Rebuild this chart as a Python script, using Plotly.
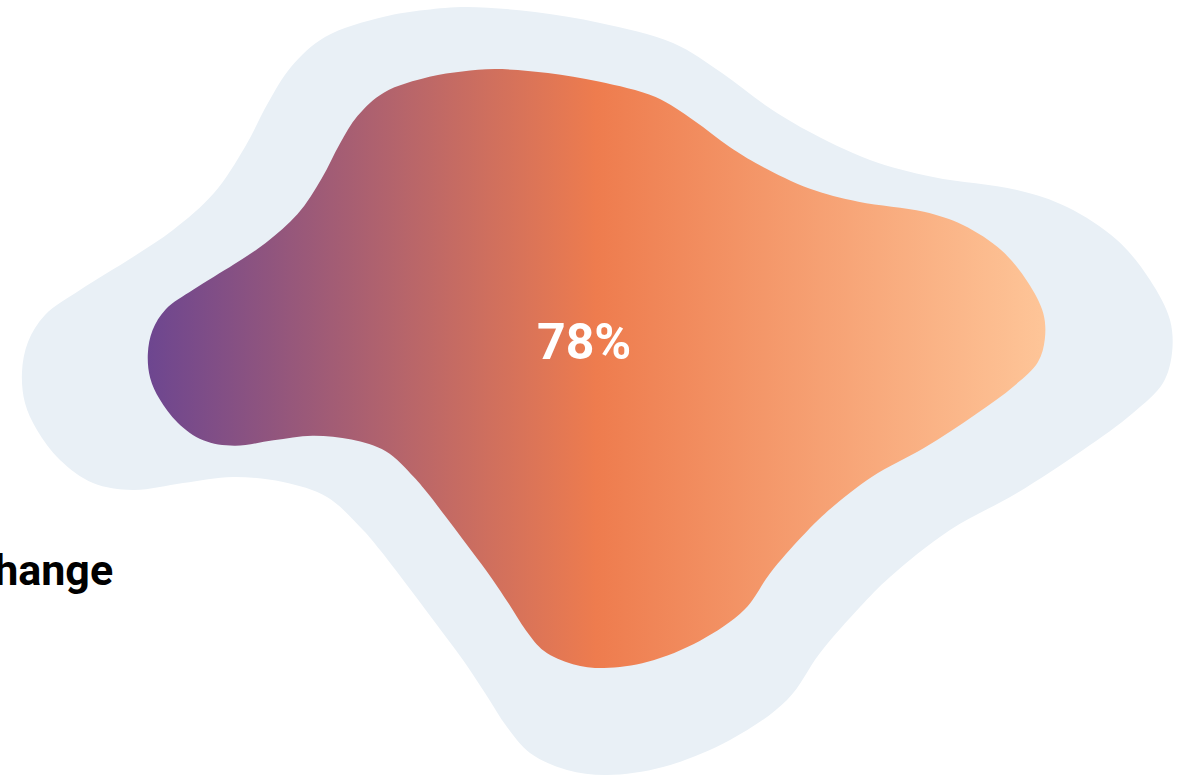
import plotly.graph_objects as go

# ---------------------------------------------------------------------------
# Data
# ---------------------------------------------------------------------------
value_pct = 78
value_label = f"{value_pct}%"
side_label = "Change"

# outline of the full (100%) blob, traced clockwise in screen pixels
blob_x = [383, 425, 467, 535, 600, 673, 722, 768, 806, 870, 933, 1017, 1067,
          1117, 1150, 1170, 1172, 1163, 1133, 1083, 1017, 950, 890, 860, 820,
          787, 730, 663, 607, 567, 530, 507, 485, 463, 437, 413, 380, 363, 327,
          283, 233, 183, 133, 93, 60, 37, 25, 22, 28, 45, 80, 133, 173, 214,
          245, 268, 291, 325]
blob_y = [17, 10, 7, 12, 23, 43, 73, 107, 130, 160, 177, 190, 207,
          240, 280, 320, 353, 383, 413, 450, 493, 530, 577, 607, 653,
          700, 740, 767, 775, 770, 753, 727, 693, 660, 625, 593, 550, 530, 497,
          482, 477, 483, 490, 483, 460, 430, 403, 372, 342, 315, 290, 257, 230, 193,
          147, 103, 67, 37]

# point the inner (value) blob is scaled around
blob_center = (594, 289)

W, H = 1196, 778

pal = {
    "back": "#e9f0f6",
    "purple": "#6d4690",
    "orange": "#ee7c4e",
    "peach": "#fec598",
    "text": "#000000",
}


def _closed(xs, ys):
    return xs + [xs[0]], ys + [ys[0]]


def _scaled(xs, ys, k, c):
    return ([c[0] + k * (x - c[0]) for x in xs],
            [c[1] + k * (y - c[1]) for y in ys])


ox, oy = _closed(blob_x, blob_y)
ix, iy = _scaled(ox, oy, value_pct / 100, blob_center)

fig = go.Figure()

fig.add_trace(go.Scatter(
    x=ox, y=oy,
    mode="lines",
    line=dict(shape="spline", smoothing=1, width=0, color=pal["back"]),
    fill="toself",
    fillcolor=pal["back"],
    hoverinfo="skip",
))

fig.add_trace(go.Scatter(
    x=ix, y=iy,
    mode="lines",
    line=dict(shape="spline", smoothing=1, width=0, color=pal["orange"]),
    fill="toself",
    fillgradient=dict(
        type="horizontal",
        colorscale=[[0, pal["purple"]], [0.5, pal["orange"]], [1, pal["peach"]]],
    ),
    hoverinfo="skip",
))

fig.add_annotation(
    x=584, y=342, text=f"<b>{value_label}</b>", showarrow=False,
    font=dict(family="Roboto", size=50, color="#ffffff"),
    xanchor="center", yanchor="middle",
)

fig.add_annotation(
    x=115, y=570, text=f"<b>{side_label}</b>", showarrow=False,
    font=dict(family="Roboto", size=43, color=pal["text"]),
    xanchor="right", yanchor="middle",
)

fig.update_layout(
    width=W, height=H,
    margin=dict(l=0, r=0, t=0, b=0),
    paper_bgcolor="#ffffff",
    plot_bgcolor="#ffffff",
    showlegend=False,
    xaxis=dict(range=[0, W], visible=False, fixedrange=True),
    yaxis=dict(range=[H, 0], visible=False, fixedrange=True),
)

# drop the default page margin so the figure sits flush with the window
fig.write_html(
    "out.html",
    config={"displayModeBar": False},
    post_script="document.body.style.margin = '0';",
)
